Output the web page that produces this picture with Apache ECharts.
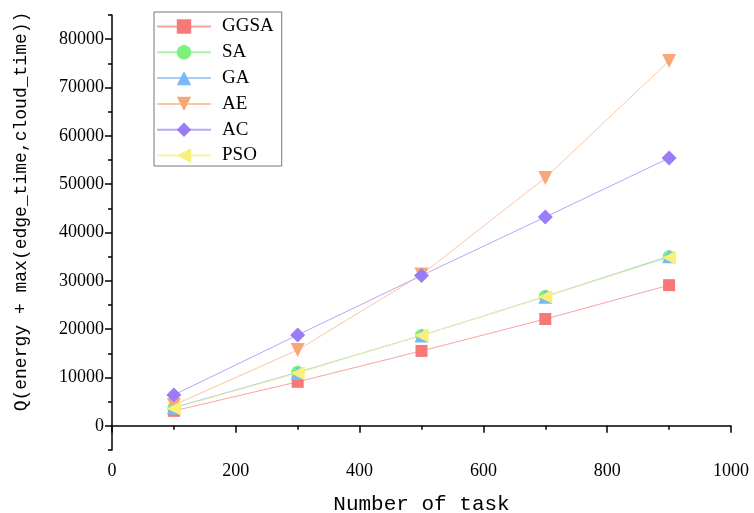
<!DOCTYPE html>
<html>
<head>
<meta charset="utf-8">
<script src="https://cdn.jsdelivr.net/npm/echarts@6/dist/echarts.min.js"></script>
<style>
html,body{margin:0;padding:0;background:#fff}
#chart{width:754px;height:513px}
</style>
</head>
<body>
<div id="chart"></div>
<script>
var tasks = [100, 300, 500, 700, 900];
var ggsa = [3100, 9100, 15500, 22100, 29100];
var sa = [3700, 11100, 18700, 26800, 35000];
var ga = [3800, 11000, 18700, 26700, 35100];
var ae = [4300, 15700, 31300, 51300, 75500];
var ac = [6400, 18800, 31100, 43200, 55400];
var pso = [3600, 10900, 18700, 26700, 34800];
var yLabels = [0, 10000, 20000, 30000, 40000, 50000, 60000, 70000, 80000];

function pts(v) {
  return tasks.map(function (t, i) { return [t, v[i]]; });
}

var chartDom = document.getElementById('chart');
var myChart = echarts.init(chartDom);
var font = 'Liberation Serif';

function mk(name, data, color, lineColor, symbol, rot, size) {
  return {
    name: name,
    type: 'line',
    data: pts(data),
    symbol: symbol,
    symbolRotate: rot,
    symbolSize: size,
    itemStyle: { color: color },
    lineStyle: { color: lineColor, width: 1 },
    emphasis: { disabled: true }
  };
}

var option = {
  animation: false,
  backgroundColor: '#fff',
  grid: { left: 112, right: 23, top: 15, bottom: 63, outerBoundsMode: 'none', containLabel: false },
  legend: {
    orient: 'vertical',
    left: 154,
    top: 12,
    width: 123,
    padding: [5, 8, 1, 2],
    itemWidth: 54,
    itemHeight: 18,
    itemGap: 6.8,
    borderColor: '#777',
    borderWidth: 1,
    textStyle: { fontFamily: font, fontSize: 19, color: '#000', padding: [0, 0, 0, 6] }
  },
  xAxis: {
    type: 'value',
    min: 0,
    max: 1000,
    interval: 200,
    name: 'Number of task',
    nameLocation: 'middle',
    nameGap: 44,
    nameTextStyle: { fontFamily: 'Liberation Mono', fontSize: 21, color: '#000' },
    axisLine: { lineStyle: { color: '#000', width: 1.5 } },
    axisTick: { length: 7, lineStyle: { color: '#000', width: 1.5 } },
    minorTick: { show: true, splitNumber: 2, length: 4, lineStyle: { color: '#000', width: 1.5 } },
    axisLabel: { fontFamily: font, fontSize: 18, color: '#000', margin: 12, formatter: function (v) { return String(v); } },
    splitLine: { show: false }
  },
  yAxis: [
    {
      type: 'value',
      min: -5000,
      max: 85000,
      name: 'Q(energy + max(edge_time,cloud_time))',
      nameLocation: 'middle',
      nameGap: 82,
      nameTextStyle: { fontFamily: 'Liberation Mono', fontSize: 18, color: '#000', padding: [0, 0, 0, 42] },
      axisLine: { show: true, lineStyle: { color: '#000', width: 1.5 } },
      axisTick: { show: true, length: 7, customValues: yLabels, lineStyle: { color: '#000', width: 1.5 } },
      axisLabel: { customValues: yLabels, fontFamily: font, fontSize: 18, color: '#000', margin: 8, formatter: function (v) { return String(v); } },
      splitLine: { show: false }
    },
    {
      type: 'value',
      position: 'left',
      min: -5000,
      max: 85000,
      interval: 5000,
      axisLine: { show: false },
      axisTick: { show: true, length: 4, lineStyle: { color: '#000', width: 1.5 } },
      axisLabel: { show: false },
      splitLine: { show: false }
    }
  ],
  series: [
    mk('GGSA', ggsa, '#f87878', '#fba3a3', 'rect', 0, 12),
    mk('SA', sa, '#7bf07b', '#a8f4a8', 'circle', 0, 13),
    mk('GA', ga, '#78b8f8', '#a8cff8', 'triangle', 0, 14),
    mk('AE', ae, '#f8a878', '#fbc6a6', 'triangle', 180, 14),
    mk('AC', ac, '#9a7cf8', '#b9a6fa', 'diamond', 0, 15),
    mk('PSO', pso, '#f8f078', '#f8f4a8', 'triangle', 90, 14)
  ]
};

option && myChart.setOption(option);
</script>
</body>
</html>
